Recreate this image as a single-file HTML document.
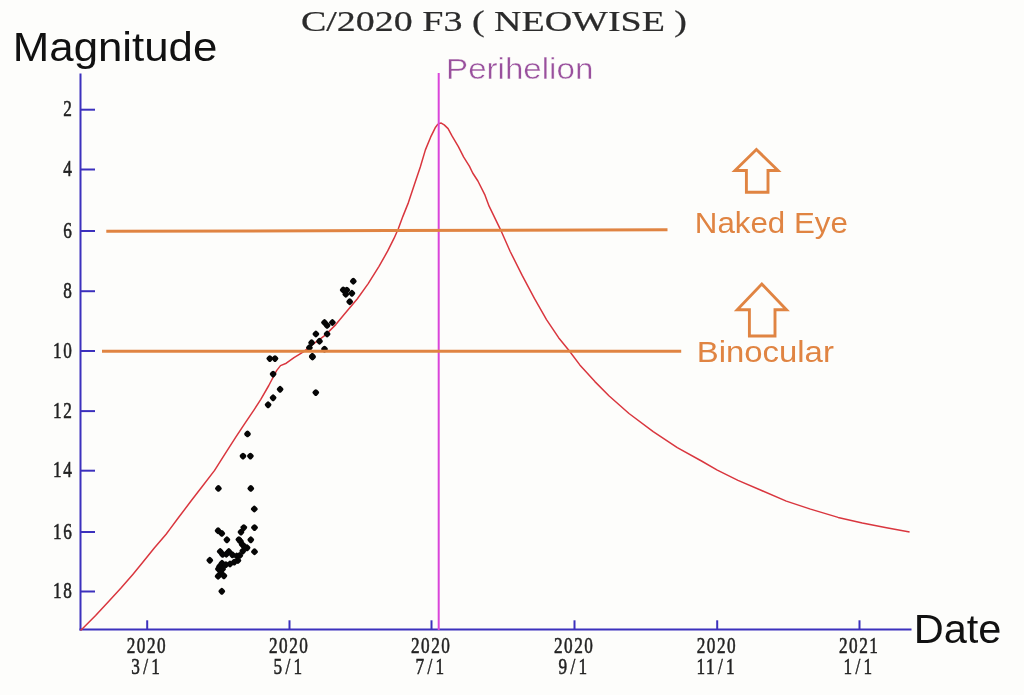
<!DOCTYPE html>
<html lang="en"><head><meta charset="utf-8"><title>C/2020 F3 ( NEOWISE )</title>
<style>
html,body{margin:0;padding:0;background:#fdfdfb;}
body{width:1024px;height:695px;overflow:hidden;}
svg{display:block;will-change:transform;}
.tick{font-family:"Liberation Serif",serif;font-size:22.5px;fill:#222;stroke:#222;stroke-width:0.55px;letter-spacing:2px;}
.cal{font-family:"Liberation Sans",sans-serif;}
.ttl{font-family:"Liberation Serif",serif;}
</style></head><body>
<svg width="1024" height="695" viewBox="0 0 1024 695">
<rect width="1024" height="695" fill="#fdfdfb"/>

<g stroke="#3c31bd" stroke-width="2" fill="none">
<path d="M80.5 73.5V630.5"/><path d="M79.5 629.6H911.5"/>
<path d="M80.5 109.7H95"/>
<path d="M80.5 169.5H95"/>
<path d="M80.5 231.0H95"/>
<path d="M80.5 291.2H95"/>
<path d="M80.5 351.0H95"/>
<path d="M80.5 411.1H95"/>
<path d="M80.5 470.7H95"/>
<path d="M80.5 532.0H95"/>
<path d="M80.5 591.5H95"/>
<path d="M147.2 620.3V630"/>
<path d="M289.5 620.3V630"/>
<path d="M431.5 620.3V630"/>
<path d="M574.5 620.3V630"/>
<path d="M717.2 620.3V630"/>
<path d="M859.5 620.3V630"/>
</g>
<path d="M80.5 630.3 L81.9 629.2 L95.6 615.5 L109.3 600.8 L121 588.1 L132.8 574.4 L142.6 562.6 L154.3 548 L166.1 534.3 L170.1 528.9 L177.8 518.5 L191.2 500.8 L202.4 486.2 L214.6 470.4 L225.2 453.6 L236.1 436.7 L245.4 422.7 L254.2 409.6 L260.8 399.3 L268.8 385.5 L276.6 370.6 L280.5 365.6 L286.3 363.2 L294 357.6 L303.8 351.6 L311.4 345.4 L325 335.4 L335.8 324.6 L346.6 311.6 L357.4 298.7 L368.2 283.6 L379 266.3 L387.6 251.2 L394.1 238.2 L398.4 228.5 L402.8 216.6 L408.4 202.6 L414.4 184.5 L420.3 167 L425.4 149.9 L430.6 137.2 L435.2 127.8 L437.3 124.9 L439.2 123.4 L441.2 123.1 L444.2 124.9 L448.1 128.6 L452 135.9 L458.5 146.8 L463.7 157.2 L469.5 166.4 L472.7 173 L477.9 181 L485 195.2 L489.1 206.2 L500.6 229.8 L510.2 251.5 L522.3 275.7 L534.4 298.4 L546.5 319.6 L558.6 337.7 L569.2 350.7 L579.8 364.9 L594.9 381.6 L608.9 395.8 L629 413.5 L653.2 431.6 L677.3 447.7 L701.5 461 L717.3 470.1 L738 480.4 L762.2 490.8 L786.3 501.1 L810.5 509.1 L838.1 517.4 L862.3 522.9 L886.5 527.7 L909.6 531.9" fill="none" stroke="#d9363e" stroke-width="1.5" stroke-linejoin="round"/>
<g fill="#060606">
<rect x="251.60" y="524.70" width="5.8" height="5.8" rx="1.8" transform="rotate(45 254.5 527.6)"/>
<rect x="240.90" y="524.70" width="5.8" height="5.8" rx="1.8" transform="rotate(45 243.8 527.6)"/>
<rect x="238.10" y="529.20" width="5.8" height="5.8" rx="1.8" transform="rotate(45 241 532.1)"/>
<rect x="215.20" y="527.80" width="5.8" height="5.8" rx="1.8" transform="rotate(45 218.1 530.7)"/>
<rect x="218.90" y="530.50" width="5.8" height="5.8" rx="1.8" transform="rotate(45 221.8 533.4)"/>
<rect x="224.00" y="536.90" width="5.8" height="5.8" rx="1.8" transform="rotate(45 226.9 539.8)"/>
<rect x="247.90" y="536.90" width="5.8" height="5.8" rx="1.8" transform="rotate(45 250.8 539.8)"/>
<rect x="237.50" y="538.40" width="5.8" height="5.8" rx="1.8" transform="rotate(45 240.4 541.3)"/>
<rect x="239.30" y="541.50" width="5.8" height="5.8" rx="1.8" transform="rotate(45 242.2 544.4)"/>
<rect x="244.20" y="544.90" width="5.8" height="5.8" rx="1.8" transform="rotate(45 247.1 547.8)"/>
<rect x="251.60" y="548.80" width="5.8" height="5.8" rx="1.8" transform="rotate(45 254.5 551.7)"/>
<rect x="239.90" y="548.20" width="5.8" height="5.8" rx="1.8" transform="rotate(45 242.8 551.1)"/>
<rect x="217.30" y="548.60" width="5.8" height="5.8" rx="1.8" transform="rotate(45 220.2 551.5)"/>
<rect x="225.90" y="548.60" width="5.8" height="5.8" rx="1.8" transform="rotate(45 228.8 551.5)"/>
<rect x="219.70" y="551.50" width="5.8" height="5.8" rx="1.8" transform="rotate(45 222.6 554.4)"/>
<rect x="223.40" y="551.30" width="5.8" height="5.8" rx="1.8" transform="rotate(45 226.3 554.2)"/>
<rect x="229.50" y="551.90" width="5.8" height="5.8" rx="1.8" transform="rotate(45 232.4 554.8)"/>
<rect x="233.80" y="553.10" width="5.8" height="5.8" rx="1.8" transform="rotate(45 236.7 556)"/>
<rect x="236.90" y="552.50" width="5.8" height="5.8" rx="1.8" transform="rotate(45 239.8 555.4)"/>
<rect x="235.00" y="557.60" width="5.8" height="5.8" rx="1.8" transform="rotate(45 237.9 560.5)"/>
<rect x="206.90" y="557.40" width="5.8" height="5.8" rx="1.8" transform="rotate(45 209.8 560.3)"/>
<rect x="231.40" y="559.20" width="5.8" height="5.8" rx="1.8" transform="rotate(45 234.3 562.1)"/>
<rect x="227.10" y="561.10" width="5.8" height="5.8" rx="1.8" transform="rotate(45 230 564)"/>
<rect x="219.10" y="560.40" width="5.8" height="5.8" rx="1.8" transform="rotate(45 222 563.3)"/>
<rect x="216.70" y="563.50" width="5.8" height="5.8" rx="1.8" transform="rotate(45 219.6 566.4)"/>
<rect x="215.50" y="566.00" width="5.8" height="5.8" rx="1.8" transform="rotate(45 218.4 568.9)"/>
<rect x="219.70" y="566.00" width="5.8" height="5.8" rx="1.8" transform="rotate(45 222.6 568.9)"/>
<rect x="217.90" y="569.00" width="5.8" height="5.8" rx="1.8" transform="rotate(45 220.8 571.9)"/>
<rect x="215.20" y="573.30" width="5.8" height="5.8" rx="1.8" transform="rotate(45 218.1 576.2)"/>
<rect x="221.00" y="572.90" width="5.8" height="5.8" rx="1.8" transform="rotate(45 223.9 575.8)"/>
<rect x="218.90" y="588.40" width="5.8" height="5.8" rx="1.8" transform="rotate(45 221.8 591.3)"/>
<rect x="215.50" y="485.50" width="5.8" height="5.8" rx="1.8" transform="rotate(45 218.4 488.4)"/>
<rect x="247.90" y="485.50" width="5.8" height="5.8" rx="1.8" transform="rotate(45 250.8 488.4)"/>
<rect x="251.40" y="506.10" width="5.8" height="5.8" rx="1.8" transform="rotate(45 254.3 509)"/>
<rect x="223.00" y="561.70" width="5.8" height="5.8" rx="1.8" transform="rotate(45 225.9 564.6)"/>
<rect x="236.00" y="536.70" width="5.8" height="5.8" rx="1.8" transform="rotate(45 238.9 539.6)"/>
<rect x="241.30" y="543.50" width="5.8" height="5.8" rx="1.8" transform="rotate(45 244.2 546.4)"/>
<rect x="266.90" y="355.70" width="5.8" height="5.8" rx="1.8" transform="rotate(45 269.8 358.6)"/>
<rect x="272.10" y="355.70" width="5.8" height="5.8" rx="1.8" transform="rotate(45 275 358.6)"/>
<rect x="270.20" y="371.20" width="5.8" height="5.8" rx="1.8" transform="rotate(45 273.1 374.1)"/>
<rect x="277.20" y="386.40" width="5.8" height="5.8" rx="1.8" transform="rotate(45 280.1 389.3)"/>
<rect x="270.20" y="394.90" width="5.8" height="5.8" rx="1.8" transform="rotate(45 273.1 397.8)"/>
<rect x="265.20" y="401.90" width="5.8" height="5.8" rx="1.8" transform="rotate(45 268.1 404.8)"/>
<rect x="312.90" y="389.70" width="5.8" height="5.8" rx="1.8" transform="rotate(45 315.8 392.6)"/>
<rect x="309.60" y="354.10" width="5.8" height="5.8" rx="1.8" transform="rotate(45 312.5 357)"/>
<rect x="244.60" y="431.00" width="5.8" height="5.8" rx="1.8" transform="rotate(45 247.5 433.9)"/>
<rect x="240.10" y="453.20" width="5.8" height="5.8" rx="1.8" transform="rotate(45 243 456.1)"/>
<rect x="247.50" y="453.20" width="5.8" height="5.8" rx="1.8" transform="rotate(45 250.4 456.1)"/>
<rect x="350.40" y="278.30" width="5.8" height="5.8" rx="1.8" transform="rotate(45 353.3 281.2)"/>
<rect x="340.30" y="287.00" width="5.8" height="5.8" rx="1.8" transform="rotate(45 343.2 289.9)"/>
<rect x="343.90" y="287.20" width="5.8" height="5.8" rx="1.8" transform="rotate(45 346.8 290.1)"/>
<rect x="342.90" y="291.30" width="5.8" height="5.8" rx="1.8" transform="rotate(45 345.8 294.2)"/>
<rect x="349.00" y="290.40" width="5.8" height="5.8" rx="1.8" transform="rotate(45 351.9 293.3)"/>
<rect x="346.80" y="298.80" width="5.8" height="5.8" rx="1.8" transform="rotate(45 349.7 301.7)"/>
<rect x="321.60" y="319.60" width="5.8" height="5.8" rx="1.8" transform="rotate(45 324.5 322.5)"/>
<rect x="329.50" y="319.60" width="5.8" height="5.8" rx="1.8" transform="rotate(45 332.4 322.5)"/>
<rect x="324.20" y="322.50" width="5.8" height="5.8" rx="1.8" transform="rotate(45 327.1 325.4)"/>
<rect x="313.00" y="331.10" width="5.8" height="5.8" rx="1.8" transform="rotate(45 315.9 334)"/>
<rect x="324.20" y="331.10" width="5.8" height="5.8" rx="1.8" transform="rotate(45 327.1 334)"/>
<rect x="316.60" y="338.30" width="5.8" height="5.8" rx="1.8" transform="rotate(45 319.5 341.2)"/>
<rect x="308.70" y="339.80" width="5.8" height="5.8" rx="1.8" transform="rotate(45 311.6 342.7)"/>
<rect x="306.50" y="344.80" width="5.8" height="5.8" rx="1.8" transform="rotate(45 309.4 347.7)"/>
<rect x="321.60" y="346.20" width="5.8" height="5.8" rx="1.8" transform="rotate(45 324.5 349.1)"/>
<rect x="309.40" y="353.40" width="5.8" height="5.8" rx="1.8" transform="rotate(45 312.3 356.3)"/>
</g>
<path d="M438.7 73V630" stroke="#da46da" stroke-width="2" fill="none"/>
<g stroke="#e08442" stroke-width="3" fill="none">
<path d="M106.3 231.2L388 230.6L667.5 229.7"/><path d="M102 351.2H681.2"/>
</g>
<g stroke="#e08442" stroke-width="2.9" fill="none" stroke-linejoin="miter">
<path d="M756.4 149.5L778 170.5H768V192.3H746.4V170.5H735Z"/>
<path d="M761.8 284L786.5 309.8H775V336H749.4V309.8H737.2Z"/>
</g>
<g class="tick" text-anchor="end">
<text transform="translate(73.3 116.3) scale(0.765 1)">2</text>
<text transform="translate(73.3 176.1) scale(0.765 1)">4</text>
<text transform="translate(73.3 237.6) scale(0.765 1)">6</text>
<text transform="translate(73.3 297.8) scale(0.765 1)">8</text>
<text transform="translate(73.3 357.6) scale(0.765 1)">10</text>
<text transform="translate(73.3 417.7) scale(0.765 1)">12</text>
<text transform="translate(73.3 477.3) scale(0.765 1)">14</text>
<text transform="translate(73.3 538.6) scale(0.765 1)">16</text>
<text transform="translate(73.3 598.1) scale(0.765 1)">18</text>
</g>
<g class="tick" text-anchor="middle">
<text transform="translate(146.9 652.6) scale(0.765 1)">2020</text><text transform="translate(146.3 673.7) scale(0.765 1)">3<tspan dx="2.3">/</tspan><tspan dx="2.3">1</tspan></text>
<text transform="translate(289.2 652.6) scale(0.765 1)">2020</text><text transform="translate(288.6 673.7) scale(0.765 1)">5<tspan dx="2.3">/</tspan><tspan dx="2.3">1</tspan></text>
<text transform="translate(431.2 652.6) scale(0.765 1)">2020</text><text transform="translate(430.6 673.7) scale(0.765 1)">7<tspan dx="2.3">/</tspan><tspan dx="2.3">1</tspan></text>
<text transform="translate(574.2 652.6) scale(0.765 1)">2020</text><text transform="translate(573.6 673.7) scale(0.765 1)">9<tspan dx="2.3">/</tspan><tspan dx="2.3">1</tspan></text>
<text transform="translate(716.9 652.6) scale(0.765 1)">2020</text><text transform="translate(716.3 673.7) scale(0.765 1)">11<tspan dx="2.3">/</tspan><tspan dx="2.3">1</tspan></text>
<text transform="translate(859.2 652.6) scale(0.765 1)">2021</text><text transform="translate(858.6 673.7) scale(0.765 1)">1<tspan dx="2.3">/</tspan><tspan dx="2.3">1</tspan></text>
</g>
<text class="cal" x="12.8" y="61" font-size="40" fill="#111" textLength="204.5" lengthAdjust="spacingAndGlyphs">Magnitude</text>
<text class="cal" x="913.7" y="642.9" font-size="40" fill="#111" textLength="87.7" lengthAdjust="spacingAndGlyphs">Date</text>
<text class="cal" x="446.1" y="78.9" font-size="30" fill="#99509d" stroke="#fdfdfb" stroke-width="0.45" textLength="147.2" lengthAdjust="spacingAndGlyphs">Perihelion</text>
<text class="cal" x="694.8" y="232.6" font-size="30" fill="#e08442" textLength="153" lengthAdjust="spacingAndGlyphs">Naked Eye</text>
<text class="cal" x="696.7" y="362.2" font-size="30" fill="#e08442" textLength="137.2" lengthAdjust="spacingAndGlyphs">Binocular</text>
<text class="ttl" x="301" y="31.3" font-size="28.5" fill="#2b2b2b" stroke="#2b2b2b" stroke-width="0.22" textLength="386" lengthAdjust="spacingAndGlyphs">C/2020 F3 ( NEOWISE )</text>
</svg></body></html>
